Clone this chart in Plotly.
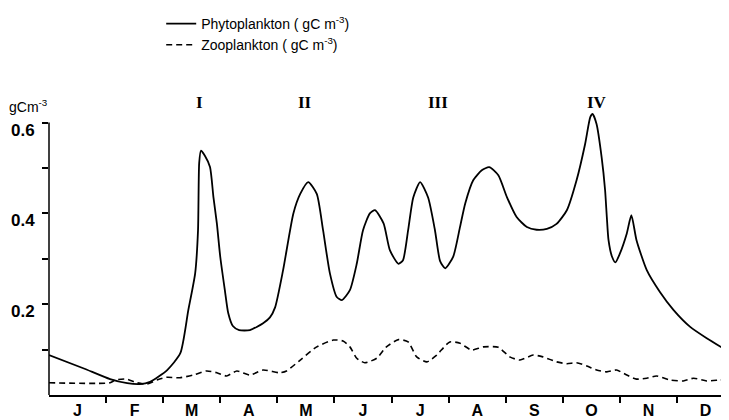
import plotly.graph_objects as go

# month axis: 0 = start of January, 12 = end of December
months = ["J", "F", "M", "A", "M", "J", "J", "A", "S", "O", "N", "D"]
month_centers = [i + 0.5 for i in range(12)]
month_bounds = [i for i in range(1, 12)]

phyto_t = [0, 0.6, 1.07, 1.37, 1.59, 1.77, 2.07, 2.3, 2.44, 2.56, 2.61, 2.63, 2.66, 2.73,
           2.82, 2.88, 2.94, 3.0, 3.08, 3.14, 3.22, 3.33, 3.52, 3.75, 3.87, 3.96, 4.1,
           4.28, 4.4, 4.54, 4.69, 4.8, 4.92, 5.04, 5.13, 5.27, 5.39, 5.5, 5.62, 5.71,
           5.86, 5.97, 6.12, 6.2, 6.29, 6.38, 6.5, 6.64, 6.76, 6.85, 6.94, 7.08, 7.2,
           7.29, 7.43, 7.58, 7.71, 7.87, 8.02, 8.19, 8.37, 8.54, 8.72, 8.89, 9.07, 9.24,
           9.39, 9.48, 9.52, 9.59, 9.68, 9.74, 9.77, 9.8, 9.86, 9.92, 10.0, 10.12, 10.2,
           10.29, 10.47, 10.7, 10.94, 11.23, 11.52, 11.91]
phyto_v = [0.088, 0.059, 0.035, 0.026, 0.024, 0.029, 0.055, 0.092, 0.187, 0.268, 0.363,
           0.51, 0.538, 0.527, 0.502, 0.436, 0.378, 0.304, 0.231, 0.18, 0.152, 0.143,
           0.143, 0.158, 0.171, 0.193, 0.275, 0.4, 0.443, 0.469, 0.443, 0.363, 0.268,
           0.216, 0.209, 0.231, 0.289, 0.363, 0.4, 0.407, 0.378, 0.319, 0.289, 0.297,
           0.363, 0.435, 0.469, 0.435, 0.363, 0.295, 0.279, 0.305, 0.371, 0.422, 0.473,
           0.495, 0.502, 0.484, 0.436, 0.392, 0.37, 0.364, 0.366, 0.377, 0.407, 0.473,
           0.553, 0.612, 0.619, 0.597, 0.523, 0.451, 0.392, 0.341, 0.305, 0.292, 0.312,
           0.356, 0.396, 0.341, 0.275, 0.227, 0.187, 0.15, 0.125, 0.095]

zoo_t = [0, 1.07, 1.16, 1.36, 1.54, 1.71, 1.89, 2.06, 2.29, 2.53, 2.76, 2.94, 3.11, 3.29,
         3.52, 3.75, 4.04, 4.16, 4.4, 4.69, 4.98, 5.15, 5.27, 5.39, 5.53, 5.74, 5.91,
         6.12, 6.29, 6.44, 6.62, 6.79, 7.02, 7.2, 7.4, 7.61, 7.87, 8.07, 8.25, 8.48,
         8.65, 8.89, 9.07, 9.24, 9.42, 9.59, 9.77, 9.94, 10.12, 10.29, 10.47, 10.64,
         10.88, 11.11, 11.29, 11.52, 11.75, 11.91]
zoo_v = [0.027, 0.027, 0.033, 0.035, 0.027, 0.024, 0.033, 0.039, 0.038, 0.044, 0.053,
         0.049, 0.042, 0.053, 0.044, 0.055, 0.049, 0.053, 0.077, 0.106, 0.121, 0.119,
         0.106, 0.081, 0.071, 0.081, 0.106, 0.122, 0.117, 0.084, 0.073, 0.088, 0.117,
         0.114, 0.099, 0.106, 0.105, 0.084, 0.077, 0.088, 0.084, 0.073, 0.069, 0.071,
         0.064, 0.055, 0.051, 0.055, 0.044, 0.035, 0.037, 0.042, 0.033, 0.031, 0.037,
         0.031, 0.033, 0.034]

y_ticks = [0.1, 0.2, 0.3, 0.4, 0.5, 0.6]
y_ticktext = ["", "0.2", "", "0.4", "", "0.6"]

peaks = ["I", "II", "III", "IV"]
peak_t = [2.64, 4.48, 6.81, 9.6]

fig = go.Figure()
fig.add_trace(go.Scatter(
    x=phyto_t, y=phyto_v, mode="lines",
    line=dict(color="black", width=1.8, shape="spline", smoothing=0.6),
    name="Phytoplankton ( gC m<sup>-3</sup>)"))
fig.add_trace(go.Scatter(
    x=zoo_t, y=zoo_v, mode="lines",
    line=dict(color="black", width=1.6, shape="spline", smoothing=0.6, dash="6px,4px"),
    name="Zooplankton ( gC m<sup>-3</sup>)"))

for lab, t in zip(peaks, peak_t):
    fig.add_annotation(x=t, xref="x", y=1.021, yref="paper", text=lab, showarrow=False,
                       font=dict(family="Liberation Serif", size=17, color="black",
                                 weight="bold"),
                       xanchor="center", yanchor="middle")

fig.add_annotation(x=-0.062, xref="paper", y=1.01, yref="paper",
                   text="gCm<sup>-3</sup>", showarrow=False, xanchor="left", yanchor="middle",
                   font=dict(family="Liberation Sans", size=14, color="black"))

# y axis line only up to 0.6
fig.add_shape(type="line", xref="paper", x0=0, x1=0, yref="y", y0=0, y1=0.6,
              line=dict(color="black", width=1.5))

fig.update_layout(
    width=721, height=412,
    margin=dict(l=41, r=0, t=100, b=25),
    paper_bgcolor="white", plot_bgcolor="white",
    showlegend=True,
    legend=dict(x=0.165, xanchor="left", y=1.355, yanchor="top",
                font=dict(family="Liberation Sans", size=14, color="black"),
                bgcolor="rgba(0,0,0,0)", tracegroupgap=0, itemwidth=30),
    xaxis=dict(range=[0, 11.91], showgrid=False, zeroline=False,
               showline=True, linecolor="black", linewidth=1.5,
               tickvals=month_centers, ticktext=months, ticks="",
               tickfont=dict(family="Liberation Sans", size=16, color="black",
                             weight="bold"),
               minor=dict(tickvals=month_bounds, ticks="outside", ticklen=6,
                          tickwidth=1.5, tickcolor="black", showgrid=False)),
    yaxis=dict(range=[0, 0.63], showgrid=False, zeroline=False, showline=False,
               tickvals=y_ticks, ticktext=y_ticktext, ticks="outside", ticklen=6,
               tickwidth=1.5, tickcolor="black", ticklabelshift=7, ticklabelstandoff=4,
               tickfont=dict(family="Liberation Sans", size=17, color="black",
                             weight="bold")),
)

fig.write_html("out.html")
